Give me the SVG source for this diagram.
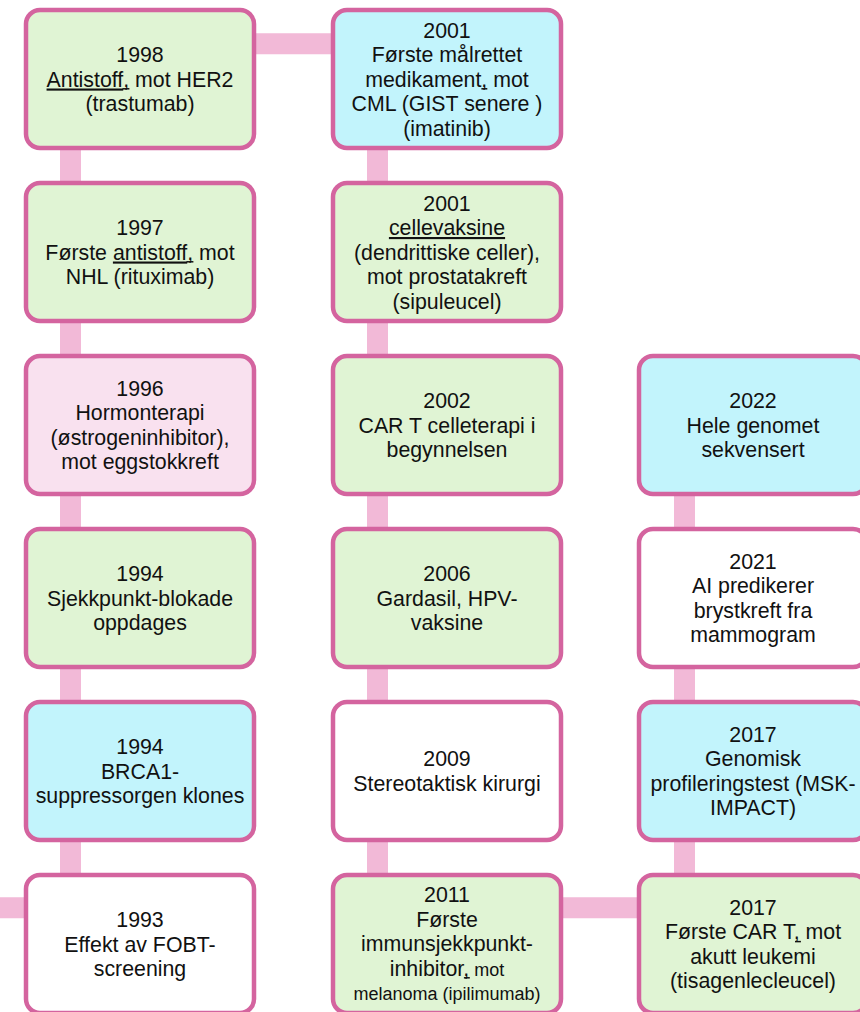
<svg xmlns="http://www.w3.org/2000/svg" width="860" height="1012" viewBox="0 0 860 1012">
<style>
.box{stroke:#D4649F;stroke-width:4.5}
.g{fill:#E0F4D4}.b{fill:#C2F4FC}.p{fill:#F9E1EF}.w{fill:#FFFFFF}
.conn{stroke:#F2B9D7;stroke-width:21;fill:none}
text{font-family:"Liberation Sans",Arial,sans-serif;font-size:21.33px;fill:#111;text-anchor:middle}
.u{text-decoration:underline}
.s{font-size:18px}
.ul{stroke:#111;stroke-width:1.5}
</style>
<rect width="860" height="1012" fill="#FFFFFF"/>
<g id="connectors">
<path class="conn" d="M0 907.8 H140"/>
<path class="conn" d="M70.5 944 V79"/>
<path class="conn" d="M70.5 43.8 H446"/>
<path class="conn" d="M377.5 79 V944"/>
<path class="conn" d="M377.5 907.8 H752"/>
<path class="conn" d="M684.5 944 V425"/>
</g>
<g id="n1998"><rect class="box g" x="26" y="10" width="228" height="138" rx="14"/>
<text><tspan x="140" y="62">1998</tspan><tspan x="140" y="86.5"><tspan class="u">Antistoff</tspan>, mot HER2</tspan><tspan x="140" y="111">(trastumab)</tspan></text>
<line class="ul" x1="122.5" y1="88.8" x2="129.4" y2="88.8"/></g>
<g id="n2001a"><rect class="box b" x="333" y="10" width="228" height="138" rx="14"/>
<text><tspan x="447" y="37.5">2001</tspan><tspan x="447" y="62">Første målrettet</tspan><tspan x="447" y="86.5">medikament, mot</tspan><tspan x="447" y="111">CML (GIST senere )</tspan><tspan x="447" y="135.5">(imatinib)</tspan></text>
<line class="ul" x1="481.4" y1="88.8" x2="487.3" y2="88.8"/></g>
<g id="n1997"><rect class="box g" x="26" y="183" width="228" height="138" rx="14"/>
<text><tspan x="140" y="235">1997</tspan><tspan x="140" y="259.5">Første <tspan class="u">antistoff</tspan>, mot</tspan><tspan x="140" y="284">NHL (rituximab)</tspan></text>
<line class="ul" x1="186.5" y1="261.8" x2="193.4" y2="261.8"/></g>
<g id="n2001b"><rect class="box g" x="333" y="183" width="228" height="138" rx="14"/>
<text><tspan x="447" y="210.5">2001</tspan><tspan x="447" y="235" class="u">cellevaksine</tspan><tspan x="447" y="259.5">(dendrittiske celler),</tspan><tspan x="447" y="284">mot prostatakreft</tspan><tspan x="447" y="308.5">(sipuleucel)</tspan></text></g>
<g id="n1996"><rect class="box p" x="26" y="356" width="228" height="138" rx="14"/>
<text><tspan x="140" y="395.75">1996</tspan><tspan x="140" y="420.25">Hormonterapi</tspan><tspan x="140" y="444.75">(østrogeninhibitor),</tspan><tspan x="140" y="469.25">mot eggstokkreft</tspan></text></g>
<g id="n2002"><rect class="box g" x="333" y="356" width="228" height="138" rx="14"/>
<text><tspan x="447" y="408">2002</tspan><tspan x="447" y="432.5">CAR T celleterapi i</tspan><tspan x="447" y="457">begynnelsen</tspan></text></g>
<g id="n2022"><rect class="box b" x="639" y="356" width="228" height="138" rx="14"/>
<text><tspan x="753" y="408">2022</tspan><tspan x="753" y="432.5">Hele genomet</tspan><tspan x="753" y="457">sekvensert</tspan></text></g>
<g id="n1994a"><rect class="box g" x="26" y="529" width="228" height="138" rx="14"/>
<text><tspan x="140" y="581">1994</tspan><tspan x="140" y="605.5">Sjekkpunkt-blokade</tspan><tspan x="140" y="630">oppdages</tspan></text></g>
<g id="n2006"><rect class="box g" x="333" y="529" width="228" height="138" rx="14"/>
<text><tspan x="447" y="581">2006</tspan><tspan x="447" y="605.5">Gardasil, HPV-</tspan><tspan x="447" y="630">vaksine</tspan></text></g>
<g id="n2021"><rect class="box w" x="639" y="529" width="228" height="138" rx="14"/>
<text><tspan x="753" y="568.75">2021</tspan><tspan x="753" y="593.25">AI predikerer</tspan><tspan x="753" y="617.75">brystkreft fra</tspan><tspan x="753" y="642.25">mammogram</tspan></text></g>
<g id="n1994b"><rect class="box b" x="26" y="702" width="228" height="138" rx="14"/>
<text><tspan x="140" y="754">1994</tspan><tspan x="140" y="778.5">BRCA1-</tspan><tspan x="140" y="803">suppressorgen klones</tspan></text></g>
<g id="n2009"><rect class="box w" x="333" y="702" width="228" height="138" rx="14"/>
<text><tspan x="447" y="766.25">2009</tspan><tspan x="447" y="790.75">Stereotaktisk kirurgi</tspan></text></g>
<g id="n2017a"><rect class="box b" x="639" y="702" width="228" height="138" rx="14"/>
<text><tspan x="753" y="741.75">2017</tspan><tspan x="753" y="766.25">Genomisk</tspan><tspan x="753" y="790.75">profileringstest (MSK-</tspan><tspan x="753" y="815.25">IMPACT)</tspan></text></g>
<g id="n1993"><rect class="box w" x="26" y="875" width="228" height="138" rx="14"/>
<text><tspan x="140" y="927">1993</tspan><tspan x="140" y="951.5">Effekt av FOBT-</tspan><tspan x="140" y="976">screening</tspan></text></g>
<g id="n2011"><rect class="box g" x="333" y="875" width="228" height="138" rx="14"/>
<text><tspan x="447" y="902">2011</tspan><tspan x="447" y="926.5">Første</tspan><tspan x="447" y="951">immunsjekkpunkt-</tspan><tspan x="447" y="975.5">inhibitor,<tspan class="s"> mot</tspan></tspan><tspan x="447" y="1000" class="s">melanoma (ipilimumab)</tspan></text>
<line class="ul" x1="463.9" y1="977.8" x2="469.8" y2="977.8"/></g>
<g id="n2017b"><rect class="box g" x="639" y="875" width="228" height="138" rx="14"/>
<text><tspan x="753" y="914.75">2017</tspan><tspan x="753" y="939.25">Første CAR T, mot</tspan><tspan x="753" y="963.75">akutt leukemi</tspan><tspan x="753" y="988.25">(tisagenlecleucel)</tspan></text>
<line class="ul" x1="795" y1="941.6" x2="800.9" y2="941.6"/></g>
</svg>
